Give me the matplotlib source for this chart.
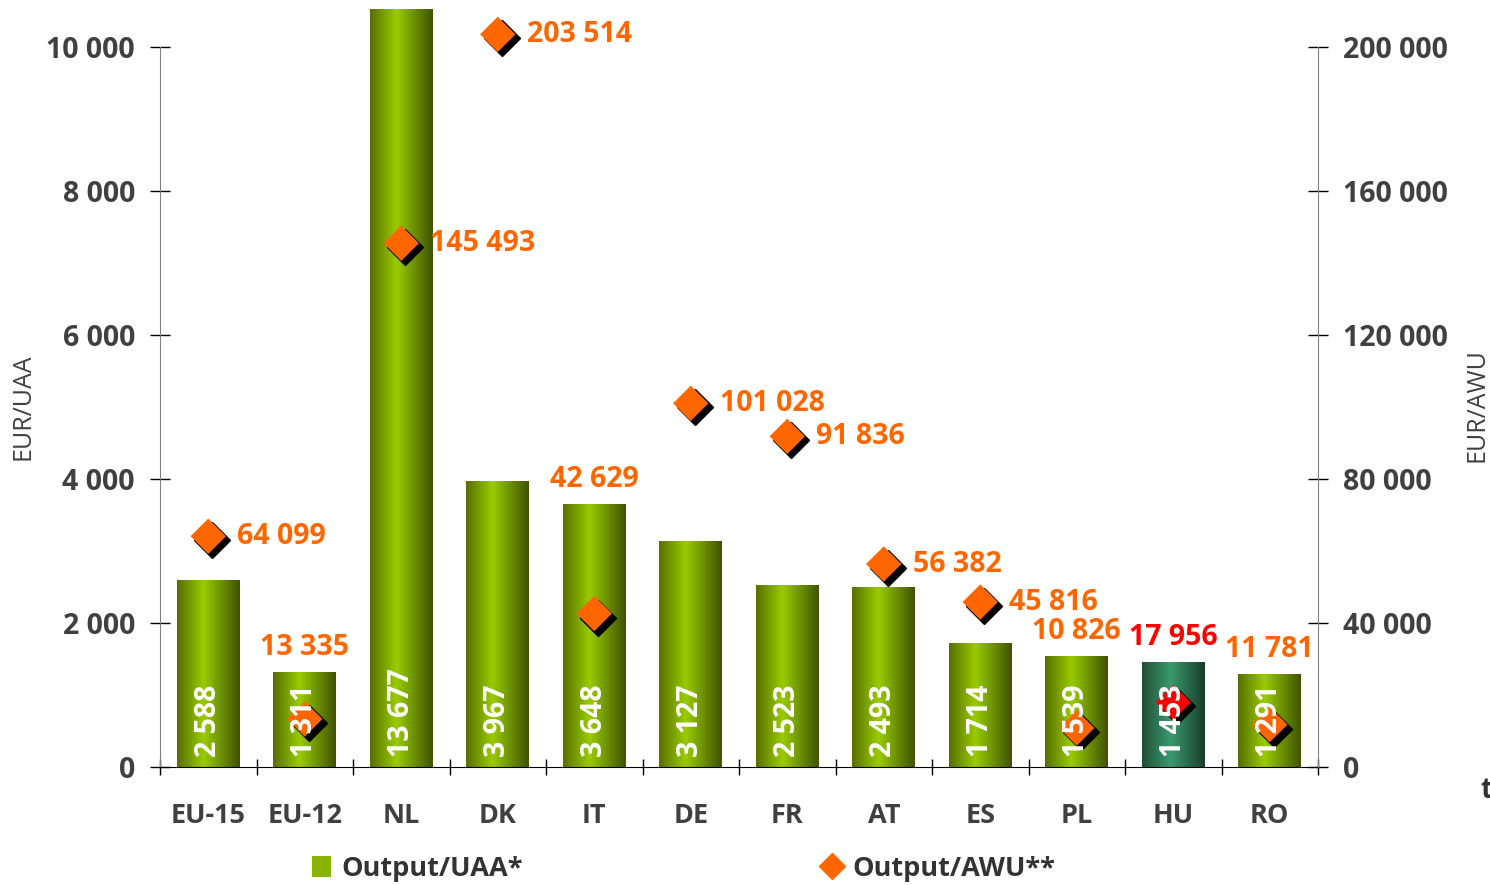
import matplotlib
matplotlib.use("Agg")
import matplotlib.pyplot as plt
from matplotlib.colors import LinearSegmentedColormap
from matplotlib.patches import Patch
from matplotlib.lines import Line2D
from matplotlib.transforms import offset_copy
import numpy as np

plt.rcParams['font.family'] = ['Open Sans', 'DejaVu Sans']

# donnees
countries = ["EU-15", "EU-12", "NL", "DK", "IT", "DE", "FR", "AT", "ES", "PL", "HU", "RO"]
output_uaa = [2588, 1311, 13677, 3967, 3648, 3127, 2523, 2493, 1714, 1539, 1453, 1291]
output_awu = [64099, 13335, 145493, 203514, 42629, 101028, 91836, 56382, 45816, 10826, 17956, 11781]
# ou mettre l'etiquette Output/AWU : a droite du losange ou au-dessus de la barre
label_pos = ["right", "above", "right", "right", "above", "right", "right", "right", "right",
             "above", "above", "above"]
highlight = "HU"

left_ticks = [0, 2000, 4000, 6000, 8000, 10000]
right_ticks = [0, 40000, 80000, 120000, 160000, 200000]

def fmt(v):
    return "{:,}".format(v).replace(",", " ")

grey = "#404040"
orange = "#ff6600"
red = "#ff0000"
num_size = 20.5

green_cmap = LinearSegmentedColormap.from_list("g", [(0, "#586e00"), (0.42, "#99cc00"), (1, "#3f5200")])
teal_cmap = LinearSegmentedColormap.from_list("t", [(0, "#1e4f36"), (0.45, "#3a9a6e"), (1, "#183d2a")])

fig = plt.figure(figsize=(14.9, 8.85), dpi=100)
ax = fig.add_axes([160 / 1490, 118 / 885, 1158 / 1490, 758 / 885])
ax2 = ax.twinx()

ymax = 10528
x = np.arange(len(countries))

bars = ax.bar(x, output_uaa, width=0.65, color="none", edgecolor="none", zorder=2)
grad = np.linspace(0, 1, 256).reshape(1, -1)
for c, b in zip(countries, bars):
    cmap = teal_cmap if c == highlight else green_cmap
    x0, w, h = b.get_x(), b.get_width(), min(b.get_height(), ymax)
    ax.imshow(grad, cmap=cmap, extent=[x0, x0 + w, 0, h], aspect="auto", zorder=2)

ax.set_xlim(-0.5, len(countries) - 0.5)
ax.set_ylim(0, ymax)
ax2.set_ylim(0, ymax * 20)

# losanges avec ombre
shadow = offset_copy(ax2.transData, fig=fig, x=4, y=-4, units="dots")
ax2.plot(x, output_awu, linestyle="none", marker="D", markersize=18, color="black",
         transform=shadow, zorder=3)
cols = [red if c == highlight else orange for c in countries]
ax2.scatter(x, output_awu, marker="D", s=18 ** 2, c=cols, zorder=4, linewidths=0)

for i, c in enumerate(countries):
    col = red if c == highlight else orange
    if label_pos[i] == "right":
        ax2.annotate(fmt(output_awu[i]), (x[i], output_awu[i]), xytext=(21, 0),
                     textcoords="offset points", ha="left", va="center",
                     fontsize=num_size, fontweight="bold", color=col, zorder=6)
    else:
        ax2.annotate(fmt(output_awu[i]), (x[i], output_uaa[i]), xycoords=ax.transData,
                     xytext=(0, 18), textcoords="offset points", ha="center", va="center",
                     fontsize=num_size, fontweight="bold", color=col, zorder=6)

# valeurs dans les barres
for i, v in enumerate(output_uaa):
    ax2.annotate(fmt(v), (x[i], 0), xycoords=ax.transData, xytext=(0, 7),
                 textcoords="offset points", rotation=90, ha="center", va="bottom",
                 fontsize=num_size, fontweight="bold", color="white", zorder=7)

# axes
for a in (ax, ax2):
    a.spines["top"].set_visible(False)
    a.spines["left"].set_color("#808080")
    a.spines["right"].set_color("#808080")
    a.spines["bottom"].set_color("black")
ax.spines["right"].set_visible(False)
ax2.spines["left"].set_visible(False)
ax2.spines["bottom"].set_visible(False)
ax.spines["left"].set_bounds(0, 10000)
ax2.spines["right"].set_bounds(0, 200000)

ax.set_yticks(left_ticks)
ax.set_yticklabels([fmt(t) for t in left_ticks])
ax2.set_yticks(right_ticks)
ax2.set_yticklabels([fmt(t) for t in right_ticks])
ax.tick_params(axis="y", direction="inout", length=14, width=1, pad=11,
               labelsize=num_size, labelcolor=grey)
ax2.tick_params(axis="y", direction="inout", length=14, width=1, pad=11,
                labelsize=num_size, labelcolor=grey)
for t in ax.get_yticklabels() + ax2.get_yticklabels():
    t.set_fontweight("bold")

ax.set_xticks(np.arange(len(countries) + 1) - 0.5)
ax.set_xticklabels([])
ax.tick_params(axis="x", which="major", direction="inout", length=11, width=1)
ax.set_xticks(x, minor=True)
ax.set_xticklabels(countries, minor=True)
ax.tick_params(axis="x", which="minor", length=0, pad=26, labelsize=19.5, labelcolor=grey)
for t in ax.get_xticklabels(minor=True):
    t.set_fontweight("bold")

ax.set_ylabel("EUR/UAA", fontsize=18, color=grey)
ax2.set_ylabel("EUR/AWU", fontsize=18, color=grey)
ax.yaxis.set_label_coords(-124 / 1158, (885 - 407 - 118) / 758)
ax2.yaxis.set_label_coords(1 + 146 / 1158, (885 - 405 - 118) / 758)

fig.text(1480 / 1490, 95 / 885, "t", fontsize=20, fontweight="bold", color="#333333",
         ha="left", va="center")

handles = [Patch(facecolor="#88b400", edgecolor="none"),
           Line2D([], [], linestyle="none", marker="D", markersize=13, color=orange)]
fig.legend(handles, ["Output/UAA*", "Output/AWU**"], ncol=2, loc="center left",
           bbox_to_anchor=(312 / 1490, 16 / 885), frameon=False,
           handlelength=0.7, handleheight=0.8, handletextpad=0.4, columnspacing=11.05,
           borderpad=0, borderaxespad=0, prop={"weight": "bold", "size": 19.5},
           labelcolor="#333333")

fig.savefig("out.png", dpi=100)
